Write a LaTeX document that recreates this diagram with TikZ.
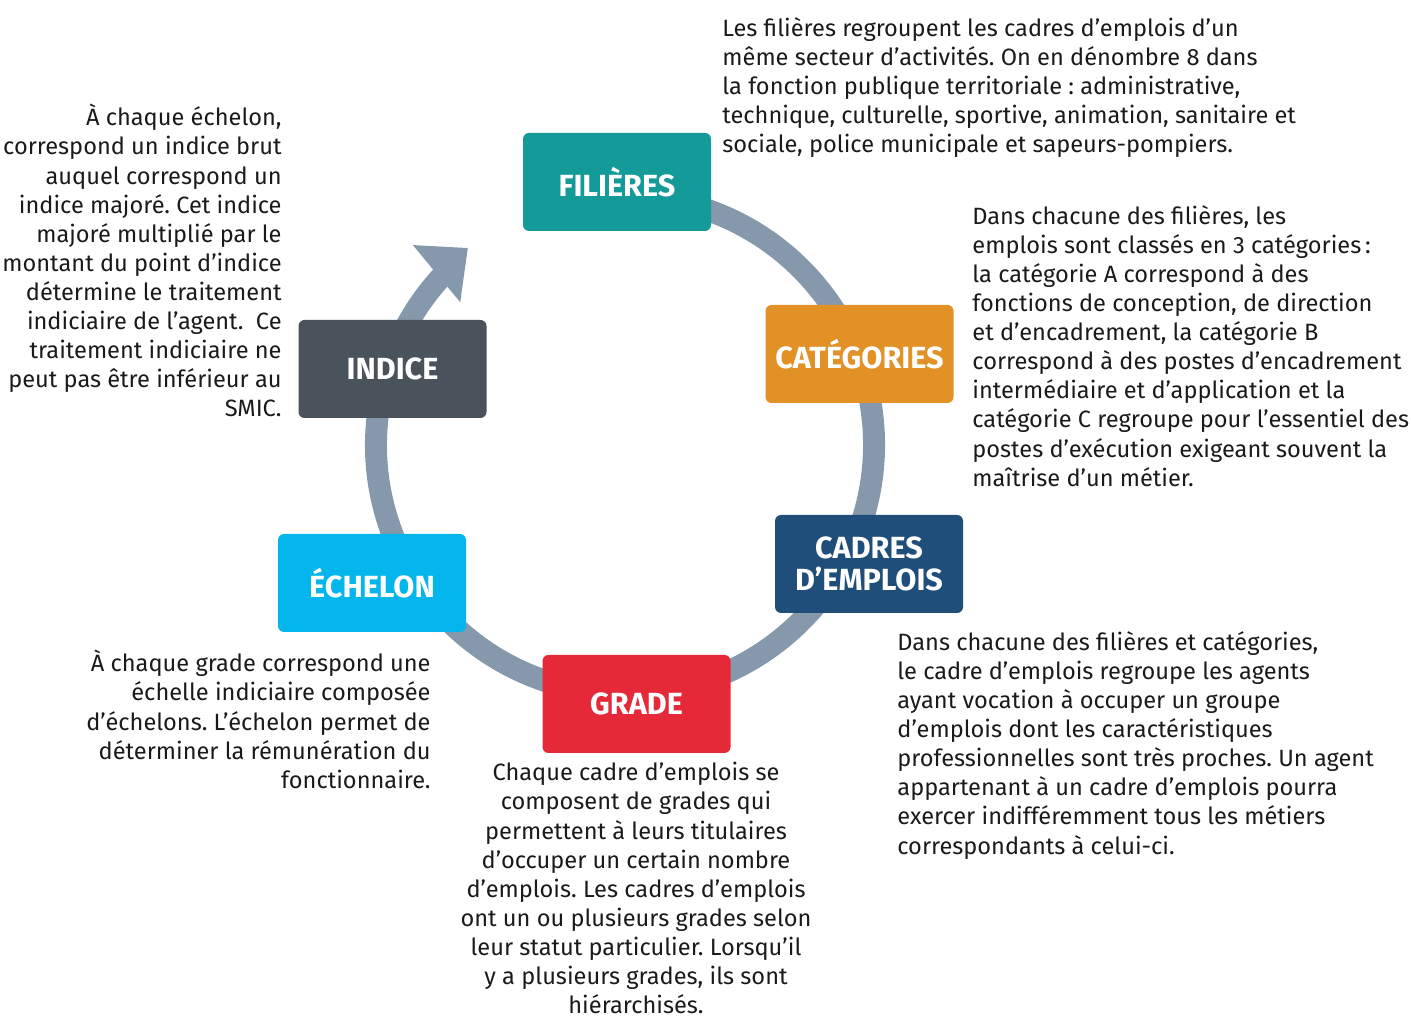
\documentclass[tikz,border=0pt]{standalone}
\usepackage{fontspec}
\setmainfont{Fira Sans}
\usepackage{tikz}
\usetikzlibrary{shapes}
\definecolor{ringgrey}{RGB}{134,152,171}
\definecolor{filteal}{RGB}{19,154,153}
\definecolor{catorange}{RGB}{226,145,39}
\definecolor{cadblue}{RGB}{31,78,123}
\definecolor{gradered}{RGB}{229,41,57}
\definecolor{echcyan}{RGB}{5,182,236}
\definecolor{indgrey}{RGB}{74,82,91}
\definecolor{textblack}{RGB}{26,26,26}
\frenchspacing

\begin{document}
\begin{tikzpicture}[x=0.5pt,y=0.5pt,
  box/.style={rounded corners=3pt,minimum width=94pt,minimum height=49pt,inner sep=0pt,
    text=white,align=center,font=\bfseries\fontsize{15.3}{16}\selectfont},
  txt/.style={inner sep=0pt,text=textblack,font=\fontsize{11.8}{14.55}\selectfont}]
\useasboundingbox (0,0) rectangle (1411,1021);
\coordinate (c) at (625,576);
\draw[draw=ringgrey,line width=11pt] ([shift={(80:249)}]c) arc[start angle=80,end angle=-223,radius=249];
\fill[ringgrey] ([shift={(128.6:252)}]c) -- ([shift={(136.7:291.5)}]c) -- ([shift={(139.1:218)}]c) -- cycle;
\node[box,fill=filteal] (filieres) at (617,839) {FILIÈRES};
\node[box,fill=catorange] (categories) at (859.5,667) {CATÉGORIES};
\node[box,fill=cadblue] (cadres) at (869,457) {CADRES\\D’EMPLOIS};
\node[box,fill=gradered] (grade) at (636.5,317) {GRADE};
\node[box,fill=echcyan] (echelon) at (372,438) {ÉCHELON};
\node[box,fill=indgrey] (indice) at (392.5,652) {INDICE};
\node[txt,anchor=north west,align=left] (filtxt) at (722,1004) {Les filières regroupent les cadres d’emplois d’un\\
même secteur d’activités. On en dénombre 8 dans\\
la fonction publique territoriale : administrative,\\
technique, culturelle, sportive, animation, sanitaire et\\
sociale, police municipale et sapeurs-pompiers.};
\node[txt,anchor=north west,align=left] (cattxt) at (972,816) {Dans chacune des filières, les\\
emplois sont classés en 3 catégories\,:\\
la catégorie A correspond à des\\
fonctions de conception, de direction\\
et d’encadrement, la catégorie B\\
correspond à des postes d’encadrement\\
intermédiaire et d’application et la\\
catégorie C regroupe pour l’essentiel des\\
postes d’exécution exigeant souvent la\\
maîtrise d’un métier.};
\node[txt,anchor=north west,align=left] (cadtxt) at (897,390) {Dans chacune des filières et catégories,\\
le cadre d’emplois regroupe les agents\\
ayant vocation à occuper un groupe\\
d’emplois dont les caractéristiques\\
professionnelles sont très proches. Un agent\\
appartenant à un cadre d’emplois pourra\\
exercer indifféremment tous les métiers\\
correspondants à celui-ci.};
\node[txt,anchor=north,align=center] (gradetxt) at (636,259) {Chaque cadre d’emplois se\\
composent de grades qui\\
permettent à leurs titulaires\\
d’occuper un certain nombre\\
d’emplois. Les cadres d’emplois\\
ont un ou plusieurs grades selon\\
leur statut particulier. Lorsqu’il\\
y a plusieurs grades, ils sont\\
hiérarchisés.};
\node[txt,anchor=north east,align=right] (echtxt) at (431,371) {À chaque grade correspond une\\
échelle indiciaire composée\\
d’échelons. L’échelon permet de\\
déterminer la rémunération du\\
fonctionnaire.};
\node[txt,anchor=north east,align=right] (indtxt) at (282,917) {À chaque échelon,\\
correspond un indice brut\\
auquel correspond un\\
indice majoré. Cet indice\\
majoré multiplié par le\\
montant du point d’indice\\
détermine le traitement\\
indiciaire de l’agent.~ Ce\\
traitement indiciaire ne\\
peut pas être inférieur au\\
SMIC.};
\end{tikzpicture}
\end{document}
